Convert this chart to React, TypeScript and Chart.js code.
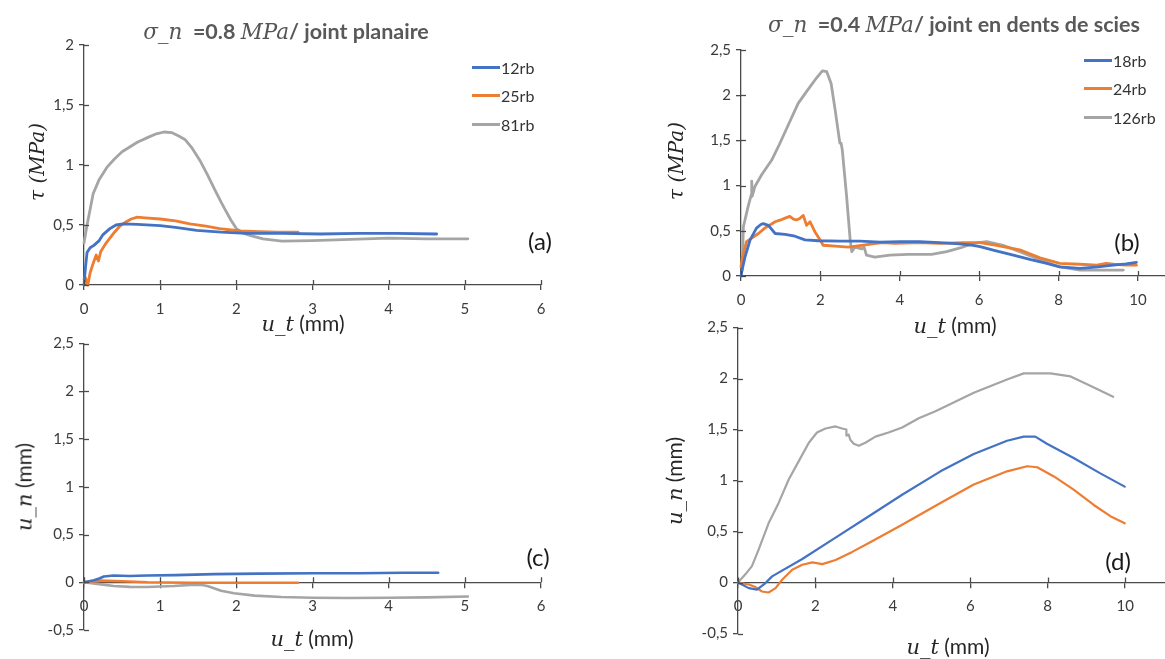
import React, { useEffect, useRef } from 'react';
import { Chart, registerables } from 'chart.js';

Chart.register(...registerables);

// ---------- colours ----------
const BLUE = '#4472C4';
const ORANGE = '#ED7D31';
const GRAY = '#A5A5A5';
const AXIS = '#4a4a4a';

// ---------- panel (a) : tau vs u_t, sigma_n = 0.8 MPa, planar joint ----------
const aLabels = ['12rb', '25rb', '81rb'];
const a12X = [0, 0.02, 0.04, 0.08, 0.13, 0.2, 0.25, 0.34, 0.42, 0.52, 0.7, 1.0, 1.2, 1.48, 1.8, 2.13, 2.6, 3.1, 3.6, 4.1, 4.63];
const a12Y = [0, 0.15, 0.27, 0.31, 0.33, 0.37, 0.42, 0.47, 0.5, 0.51, 0.505, 0.495, 0.48, 0.455, 0.44, 0.43, 0.43, 0.425, 0.43, 0.43, 0.425];
const a25X = [0, 0.02, 0.05, 0.08, 0.12, 0.16, 0.19, 0.22, 0.28, 0.34, 0.4, 0.47, 0.55, 0.62, 0.7, 0.8, 1.0, 1.2, 1.39, 1.6, 1.78, 2.05, 2.3, 2.55, 2.81];
const a25Y = [0.05, 0.06, 0.0, 0.1, 0.18, 0.25, 0.2, 0.28, 0.34, 0.39, 0.44, 0.49, 0.525, 0.55, 0.565, 0.56, 0.55, 0.535, 0.51, 0.49, 0.47, 0.45, 0.445, 0.44, 0.44];
const a81X = [0, 0.04, 0.08, 0.12, 0.2, 0.3, 0.4, 0.5, 0.6, 0.7, 0.84, 0.95, 1.05, 1.15, 1.25, 1.33, 1.42, 1.52, 1.62, 1.72, 1.8, 1.86, 1.93, 2.0, 2.1, 2.2, 2.35, 2.6, 3.0, 3.5, 4.0, 4.5, 5.04];
const a81Y = [0.35, 0.5, 0.63, 0.76, 0.88, 0.98, 1.05, 1.11, 1.15, 1.19, 1.23, 1.26, 1.275, 1.27, 1.24, 1.21, 1.14, 1.04, 0.92, 0.79, 0.69, 0.62, 0.54, 0.47, 0.43, 0.41, 0.385, 0.365, 0.37, 0.38, 0.39, 0.385, 0.385];

// ---------- panel (b) : tau vs u_t, sigma_n = 0.4 MPa, saw-tooth joint ----------
const bLabels = ['18rb', '24rb', '126rb'];
const b18X = [0, 0.03, 0.1, 0.23, 0.39, 0.5, 0.56, 0.69, 0.86, 1.11, 1.36, 1.61, 1.95, 2.5, 3.0, 3.5, 4.0, 4.5, 5.0, 5.5, 5.77, 6.02, 6.4, 6.86, 7.3, 7.7, 8.03, 8.54, 9.0, 9.38, 9.7, 9.96];
const b18Y = [0, 0.07, 0.21, 0.4, 0.53, 0.57, 0.58, 0.56, 0.47, 0.46, 0.44, 0.4, 0.39, 0.385, 0.385, 0.375, 0.38, 0.38, 0.37, 0.355, 0.343, 0.325, 0.28, 0.23, 0.18, 0.14, 0.1, 0.085, 0.1, 0.12, 0.135, 0.15];
const b24X = [0, 0.03, 0.14, 0.27, 0.44, 0.6, 0.86, 1.0, 1.11, 1.23, 1.32, 1.4, 1.49, 1.57, 1.65, 1.74, 1.86, 1.99, 2.07, 2.37, 2.7, 3.04, 3.54, 3.88, 4.5, 5.0, 5.6, 6.02, 6.44, 7.02, 7.53, 8.03, 8.54, 8.96, 9.2, 9.38, 9.7, 9.96];
const b24Y = [0.1, 0.2, 0.38, 0.42, 0.47, 0.53, 0.6, 0.62, 0.64, 0.66, 0.63, 0.62, 0.64, 0.67, 0.56, 0.6, 0.49, 0.4, 0.34, 0.33, 0.32, 0.34, 0.37, 0.36, 0.37, 0.36, 0.37, 0.37, 0.34, 0.29, 0.2, 0.14, 0.13, 0.12, 0.14, 0.13, 0.12, 0.12];
const b126X = [0.03, 0.06, 0.18, 0.26, 0.27, 0.28, 0.35, 0.52, 0.77, 0.94, 1.19, 1.44, 1.65, 1.9, 2.05, 2.16, 2.27, 2.37, 2.49, 2.52, 2.55, 2.66, 2.75, 2.79, 2.87, 3.04, 3.1, 3.16, 3.37, 3.75, 4.2, 4.8, 5.18, 5.52, 5.85, 6.19, 6.6, 7.02, 7.53, 8.03, 8.54, 9.0, 9.63];
const b126Y = [0.07, 0.545, 0.77, 0.9, 1.05, 0.88, 0.99, 1.12, 1.28, 1.43, 1.67, 1.91, 2.04, 2.19, 2.27, 2.26, 2.13, 1.84, 1.47, 1.47, 1.4, 0.88, 0.4, 0.27, 0.32, 0.3, 0.32, 0.23, 0.21, 0.23, 0.24, 0.24, 0.27, 0.31, 0.36, 0.38, 0.34, 0.27, 0.18, 0.1, 0.065, 0.065, 0.065];

// ---------- panel (c) : u_n vs u_t, planar joint ----------
const c12X = [0, 0.13, 0.2, 0.26, 0.39, 0.6, 0.83, 1.2, 1.71, 2.3, 3.03, 3.6, 4.2, 4.65];
const c12Y = [0, 0.02, 0.04, 0.06, 0.07, 0.065, 0.07, 0.075, 0.085, 0.09, 0.095, 0.095, 0.1, 0.1];
const c25X = [0, 0.22, 0.5, 0.83, 1.4, 2.0, 2.81];
const c25Y = [0, 0.017, 0.01, 0, -0.005, -0.005, -0.005];
const c81X = [0, 0.2, 0.39, 0.6, 0.83, 1.0, 1.18, 1.45, 1.55, 1.62, 1.8, 1.97, 2.24, 2.59, 3.0, 3.46, 4.0, 4.5, 5.04];
const c81Y = [0, -0.02, -0.04, -0.048, -0.05, -0.045, -0.04, -0.025, -0.028, -0.04, -0.09, -0.115, -0.14, -0.155, -0.162, -0.165, -0.163, -0.158, -0.15];

// ---------- panel (d) : u_n vs u_t, saw-tooth joint ----------
const d18X = [0, 0.28, 0.49, 0.71, 0.88, 1.66, 2.52, 3.38, 4.24, 5.23, 6.09, 6.95, 7.38, 7.68, 7.98, 8.67, 9.36, 9.99];
const d18Y = [0, -0.055, -0.07, -0.005, 0.06, 0.23, 0.44, 0.65, 0.86, 1.09, 1.26, 1.39, 1.43, 1.43, 1.36, 1.22, 1.07, 0.94];
const d24X = [0, 0.28, 0.45, 0.62, 0.79, 0.97, 1.14, 1.4, 1.66, 1.92, 2.18, 2.52, 2.95, 3.38, 4.24, 5.23, 6.09, 6.95, 7.47, 7.73, 8.16, 8.67, 9.19, 9.62, 9.99];
const d24Y = [0, -0.02, -0.045, -0.088, -0.098, -0.055, 0.027, 0.125, 0.174, 0.197, 0.18, 0.22, 0.3, 0.387, 0.567, 0.78, 0.96, 1.09, 1.14, 1.13, 1.04, 0.91, 0.76, 0.65, 0.58];
const d126X = [0, 0.19, 0.36, 0.53, 0.79, 1.05, 1.31, 1.57, 1.83, 2.04, 2.26, 2.52, 2.69, 2.8, 2.8, 2.86, 2.9, 2.99, 3.12, 3.29, 3.55, 3.89, 4.24, 4.67, 5.1, 5.49, 6.09, 6.95, 7.38, 8.07, 8.59, 9.1, 9.69];
const d126Y = [0, 0.08, 0.16, 0.32, 0.58, 0.78, 1.01, 1.19, 1.37, 1.47, 1.51, 1.53, 1.51, 1.5, 1.44, 1.45, 1.4, 1.36, 1.34, 1.37, 1.43, 1.47, 1.52, 1.61, 1.68, 1.75, 1.86, 1.99, 2.05, 2.05, 2.02, 1.93, 1.82];

// ---------- layout constants ----------
const W = 1165;
const H = 659;
const YW = 45; // fixed y-axis box width
const XH = 32; // fixed x-axis box height
const TICK = 5;

type Series = { label: string; color: string; x: number[]; y: number[] };
type Panel = {
  L: number; R: number; T: number; B: number;
  xMin: number; xMax: number; xStep: number;
  yMin: number; yMax: number;
  xAtZero: boolean; lineWidth: number;
  series: Series[];
};

const panels: Panel[] = [
  {
    L: 84, R: 541, T: 45, B: 285, xMin: 0, xMax: 6, xStep: 1, yMin: 0, yMax: 2, xAtZero: false, lineWidth: 2.8,
    series: [
      { label: aLabels[0], color: BLUE, x: a12X, y: a12Y },
      { label: aLabels[1], color: ORANGE, x: a25X, y: a25Y },
      { label: aLabels[2], color: GRAY, x: a81X, y: a81Y },
    ],
  },
  {
    L: 741, R: 1165, T: 50, B: 276, xMin: 0, xMax: 10.68, xStep: 2, yMin: 0, yMax: 2.5, xAtZero: false, lineWidth: 2.8,
    series: [
      { label: bLabels[0], color: BLUE, x: b18X, y: b18Y },
      { label: bLabels[1], color: ORANGE, x: b24X, y: b24Y },
      { label: bLabels[2], color: GRAY, x: b126X, y: b126Y },
    ],
  },
  {
    L: 84, R: 541, T: 343.5, B: 630, xMin: 0, xMax: 6, xStep: 1, yMin: -0.5, yMax: 2.5, xAtZero: true, lineWidth: 2.6,
    series: [
      { label: aLabels[0], color: BLUE, x: c12X, y: c12Y },
      { label: aLabels[1], color: ORANGE, x: c25X, y: c25Y },
      { label: aLabels[2], color: GRAY, x: c81X, y: c81Y },
    ],
  },
  {
    L: 738, R: 1165, T: 327.5, B: 633.5, xMin: 0, xMax: 11.03, xStep: 2, yMin: -0.5, yMax: 2.5, xAtZero: true, lineWidth: 2.2,
    series: [
      { label: bLabels[0], color: BLUE, x: d18X, y: d18Y },
      { label: bLabels[1], color: ORANGE, x: d24X, y: d24Y },
      { label: bLabels[2], color: GRAY, x: d126X, y: d126Y },
    ],
  },
];

const fmt = (v: number | string) => String(v).replace('.', ',');

const crossTicks = {
  id: 'crossTicks',
  afterDraw(chart: any) {
    const ctx = chart.ctx;
    const xs = chart.scales.x;
    const ys = chart.scales.y;
    const ca = chart.chartArea;
    const xAxisY = typeof xs.options.position === 'string' ? ca.bottom : ys.getPixelForValue(0);
    ctx.save();
    ctx.strokeStyle = AXIS;
    ctx.lineWidth = 1.3;
    xs.ticks.forEach((t: any) => {
      const px = Math.round(xs.getPixelForValue(t.value)) + 0.5;
      ctx.beginPath();
      ctx.moveTo(px, xAxisY);
      ctx.lineTo(px, xAxisY - TICK);
      ctx.stroke();
    });
    ys.ticks.forEach((t: any) => {
      const py = Math.round(ys.getPixelForValue(t.value)) + 0.5;
      ctx.beginPath();
      ctx.moveTo(ca.left, py);
      ctx.lineTo(ca.left + TICK, py);
      ctx.stroke();
    });
    ctx.restore();
  },
};

function makeConfig(p: Panel): any {
  const tickFont = { family: 'Lato', size: 15 };
  return {
    type: 'scatter',
    data: {
      datasets: p.series.map((s) => ({
        label: s.label,
        data: s.x.map((xv, i) => ({ x: xv, y: s.y[i] })),
        showLine: true,
        borderColor: s.color,
        backgroundColor: s.color,
        borderWidth: p.lineWidth,
        pointRadius: 0,
        pointHoverRadius: 0,
        tension: 0,
        borderJoinStyle: 'round',
        borderCapStyle: 'round',
        clip: 6,
      })),
    },
    options: {
      responsive: false,
      maintainAspectRatio: false,
      animation: false,
      events: [],
      layout: {
        padding: {
          left: p.L - YW,
          right: W - p.R,
          top: p.T,
          bottom: p.xAtZero ? H - p.B : H - p.B - XH,
        },
      },
      plugins: {
        legend: { display: false },
        tooltip: { enabled: false },
        title: { display: false },
      },
      scales: {
        x: {
          type: 'linear',
          min: p.xMin,
          max: p.xMax,
          position: p.xAtZero ? { y: 0 } : 'bottom',
          ticks: {
            stepSize: p.xStep,
            includeBounds: false,
            autoSkip: false,
            maxRotation: 0,
            padding: 10,
            font: tickFont,
            color: '#3a3a3a',
            callback: (v: any) => fmt(v),
          },
          grid: { display: true, drawOnChartArea: false, drawTicks: true, tickLength: TICK, color: AXIS, lineWidth: 1.3 },
          border: { display: true, color: AXIS, width: 1.3 },
          afterFit: (s: any) => {
            if (!p.xAtZero) s.height = XH;
            s.paddingLeft = 0;
            s.paddingRight = 0;
            s.paddingTop = 0;
            s.paddingBottom = 0;
          },
        },
        y: {
          type: 'linear',
          min: p.yMin,
          max: p.yMax,
          position: 'left',
          ticks: {
            stepSize: 0.5,
            autoSkip: false,
            padding: 5,
            font: tickFont,
            color: '#3a3a3a',
            callback: (v: any) => fmt(v),
          },
          grid: { display: true, drawOnChartArea: false, drawTicks: true, tickLength: TICK, color: AXIS, lineWidth: 1.3 },
          border: { display: true, color: AXIS, width: 1.3 },
          afterFit: (s: any) => {
            s.width = YW;
            s.paddingLeft = 0;
            s.paddingRight = 0;
            s.paddingTop = 0;
            s.paddingBottom = 0;
          },
        },
      },
    },
    plugins: [crossTicks],
  };
}

function PanelChart({ p }: { p: Panel }) {
  const ref = useRef<HTMLCanvasElement | null>(null);
  useEffect(() => {
    if (!ref.current) return;
    const chart = new Chart(ref.current, makeConfig(p));
    return () => chart.destroy();
  }, [p]);
  return (
    <canvas
      ref={ref}
      width={W}
      height={H}
      style={{ position: 'absolute', left: 0, top: 0, width: W, height: H }}
    />
  );
}

const MATH = "'DejaVu Serif', serif";
const SANS = "Lato, 'Open Sans', sans-serif";

const m: React.CSSProperties = { fontFamily: MATH, fontStyle: 'italic', fontWeight: 400 };

function Txt({ x, y, rot, style, children }: { x: number; y: number; rot?: boolean; style?: React.CSSProperties; children: React.ReactNode }) {
  return (
    <div
      style={{
        position: 'absolute',
        left: x,
        top: y,
        whiteSpace: 'nowrap',
        lineHeight: 1,
        transform: `translate(-50%, -50%)${rot ? ' rotate(-90deg)' : ''}`,
        ...style,
      }}
    >
      {children}
    </div>
  );
}

function Legend({ x, y, labels }: { x: number; y: number; labels: string[] }) {
  const colors = [BLUE, ORANGE, GRAY];
  return (
    <>
      {labels.map((l, i) => (
        <div key={l} style={{ position: 'absolute', left: x, top: y + i * 28.5 - 10, height: 20, display: 'flex', alignItems: 'center' }}>
          <div style={{ width: 28, height: 3, background: colors[i] }} />
          <span style={{ fontFamily: SANS, fontSize: 16, color: '#333', marginLeft: 1 }}>{l}</span>
        </div>
      ))}
    </>
  );
}

export default function App() {
  const titleStyle: React.CSSProperties = { fontFamily: SANS, fontWeight: 700, fontSize: 21.5, color: '#595959' };
  const axTitle: React.CSSProperties = { fontFamily: SANS, fontSize: 21, color: '#262626' };
  const panelLab: React.CSSProperties = { fontFamily: SANS, fontSize: 24, color: '#1a1a1a' };
  const mt: React.CSSProperties = { ...m, color: '#555' };
  return (
    <div style={{ position: 'fixed', left: 0, top: 0, width: W, height: H, overflow: 'hidden', background: '#fff' }}>
      {panels.map((p, i) => (
        <PanelChart key={i} p={p} />
      ))}

      {/* titles */}
      <Txt x={286} y={32} style={titleStyle}>
        <span style={mt}>σ_n</span>&nbsp; =0.8 <span style={mt}>MPa</span>/ joint planaire
      </Txt>
      <Txt x={954} y={25} style={titleStyle}>
        <span style={mt}>σ_n</span>&nbsp; =0.4 <span style={mt}>MPa</span>/ joint en dents de scies
      </Txt>

      {/* legends */}
      <Legend x={472} y={67} labels={aLabels} />
      <Legend x={1084} y={60} labels={bLabels} />

      {/* panel labels */}
      <Txt x={540} y={241} style={panelLab}>(a)</Txt>
      <Txt x={1127} y={242} style={panelLab}>(b)</Txt>
      <Txt x={538} y={557} style={panelLab}>(c)</Txt>
      <Txt x={1118} y={561} style={panelLab}>(d)</Txt>

      {/* x axis titles */}
      <Txt x={303} y={323} style={axTitle}><span style={m}>u_t</span> (mm)</Txt>
      <Txt x={955} y={325} style={axTitle}><span style={m}>u_t</span> (mm)</Txt>
      <Txt x={312} y={638} style={axTitle}><span style={m}>u_t</span> (mm)</Txt>
      <Txt x={948} y={646} style={axTitle}><span style={m}>u_t</span> (mm)</Txt>

      {/* y axis titles */}
      <Txt x={37} y={162} rot style={{ ...axTitle, ...m, fontSize: 20 }}>τ (MPa)</Txt>
      <Txt x={676} y={161} rot style={{ ...axTitle, ...m, fontSize: 20 }}>τ (MPa)</Txt>
      <Txt x={24} y={487} rot style={axTitle}><span style={m}>u_n</span> (mm)</Txt>
      <Txt x={674} y={481} rot style={axTitle}><span style={m}>u_n</span> (mm)</Txt>
    </div>
  );
}
